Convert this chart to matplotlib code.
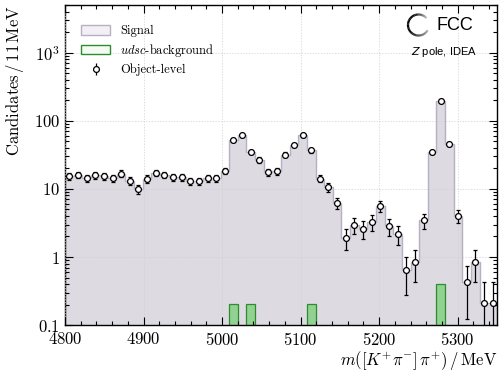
import matplotlib
matplotlib.use('Agg')
import matplotlib.pyplot as plt
import matplotlib.ticker as ticker
from matplotlib.patches import Arc, Patch
import numpy as np

plt.rcParams.update({
    'mathtext.fontset': 'cm',
    'font.family': 'serif',
    'font.serif': ['cmr10', 'DejaVu Serif'],
    'axes.formatter.use_mathtext': True,
    'axes.unicode_minus': False,
})

# ── data: 50 bins of 11 MeV from 4800 MeV ─────────────────────
bin_lo, bin_w = 4800, 11
signal = [15.5, 16.1, 14.5, 15.8, 15.3, 14.5, 16.8, 13.1, 10.0, 14.0,
          17.3, 16.1, 14.8, 14.8, 12.9, 12.9, 14.5, 14.5, 18.6, 52.0,
          60.8, 34.7, 26.7, 17.4, 18.0, 31.9, 44.8, 60.8, 36.6, 14.2,
          10.6, 6.16, 1.92, 2.99, 2.58, 3.24, 5.62, 2.83, 2.16, 0.644,
          0.853, 3.45, 35.0, 195.0, 45.9, 4.05, 0.425, 0.853, 0.213, 0.213]
obj_level = signal
event_weight = 0.213
bkg_bins = [19, 21, 28, 43]
bkg_vals = [0.2, 0.2, 0.2, 0.4]

edges = bin_lo + bin_w * np.arange(len(signal) + 1)
centers = 0.5 * (edges[:-1] + edges[1:])
sig = np.array(signal)
obj = np.array(obj_level)
err = np.sqrt(obj * event_weight)
err_lo = np.minimum(err, obj - 1e-4)

bkg = np.zeros(len(signal))
bkg[bkg_bins] = bkg_vals

C_FILL = '#dddae2'
C_EDGE = '#b7b0c3'
C_GFILL = '#92d192'
C_GEDGE = '#2a8f2a'

fig = plt.figure(figsize=(5.04, 3.72), dpi=100)
ax = fig.add_axes([0.129, 0.126, 0.857, 0.8605])

ax.stairs(sig, edges, fill=True, baseline=1e-3, color=C_FILL, zorder=0.5)
ax.stairs(sig, edges, fill=False, baseline=1e-3, color=C_EDGE, lw=1.0, zorder=0.6)

mask = bkg > 0
ax.bar(centers[mask], bkg[mask], width=bin_w, bottom=1e-3, color=C_GFILL,
       edgecolor=C_GEDGE, linewidth=0.9, zorder=2)

ax.errorbar(centers, obj, yerr=[err_lo, err], fmt='o', ms=4.2, mfc='white',
            mec='black', mew=0.9, ecolor='black', elinewidth=0.9, capsize=1.6,
            capthick=0.9, zorder=3)

ax.set_yscale('log')
ax.set_xlim(edges[0], edges[-1])
ax.set_ylim(0.1, 5000)

ax.xaxis.set_major_locator(ticker.MultipleLocator(100))
ax.xaxis.set_minor_locator(ticker.MultipleLocator(20))
ax.xaxis.set_major_formatter(ticker.FuncFormatter(lambda v, p: r'$%d$' % v))
ax.yaxis.set_major_locator(ticker.FixedLocator([0.1, 1, 10, 100, 1000]))
ax.yaxis.set_minor_locator(ticker.LogLocator(base=10, subs=np.arange(2, 10), numticks=20))
ylab = {0.1: r'$0.1$', 1: r'$1$', 10: r'$10$', 100: r'$100$', 1000: r'$10^{3}$'}
ax.yaxis.set_major_formatter(ticker.FuncFormatter(lambda v, p: ylab.get(round(v, 3), '')))
ax.yaxis.set_minor_formatter(ticker.NullFormatter())

ax.tick_params(which='both', direction='in', top=True, right=True, labelsize=12, width=0.8)
ax.tick_params(which='major', length=5.5)
ax.tick_params(which='minor', length=3)
ax.tick_params(axis='x', pad=4.5)
ax.grid(True, which='major', ls=(0, (2, 2)), lw=0.5, color='#cfcfcf')
ax.set_axisbelow(False)
for s in ax.spines.values():
    s.set_linewidth(1.0)

ax.set_xlabel(r'$m([K^{+}\pi^{-}]\,\pi^{+})\,/\,\mathrm{MeV}$', fontsize=12, loc='right', labelpad=1)
ax.set_ylabel(r'$\mathrm{Candidates}\,/\,11\,\mathrm{MeV}$', fontsize=12, loc='top', labelpad=6)

eb = ax.errorbar([], [], yerr=[], fmt='o', ms=4.2, mfc='white', mec='black', mew=0.9,
                 ecolor='black', elinewidth=0.9, capsize=1.6, capthick=0.9)
handles = [Patch(facecolor='#f2f0f5', edgecolor=C_EDGE, lw=1.0),
           Patch(facecolor='#f4fbf4', edgecolor=C_GEDGE, lw=1.0),
           eb]
ax.legend(handles, ['Signal', r'$udsc$-background', 'Object-level'],
          loc='upper left', bbox_to_anchor=(0.012, 0.972), frameon=False,
          fontsize=9, handlelength=2.3, handleheight=0.75, labelspacing=0.38,
          handletextpad=0.8)

# FCC logo
n = 40
th = np.linspace(40, 330, n + 1)
for i in range(n):
    a = 0.25 + 0.75 * min(1, (i / n) * 4) * min(1, ((n - i) / n) * 2.5)
    ax.add_patch(Arc((4.185, 3.47), 0.21, 0.21, theta1=th[i], theta2=th[i + 1] + 0.5,
                     lw=1.6, color='black', alpha=a, transform=fig.dpi_scale_trans,
                     clip_on=False))
fig.text(4.37 / 5.04, 1 - 25 / 372, 'FCC', family='Liberation Sans', fontsize=13,
         ha='left', va='center')
fig.text(4.44 / 5.04, 1 - 52 / 372, r'$\mathit{Z}$ pole, IDEA', family='Liberation Sans',
         fontsize=8, ha='center', va='center', math_fontfamily='dejavusans')

fig.savefig('out.png', dpi=100, facecolor='white')
